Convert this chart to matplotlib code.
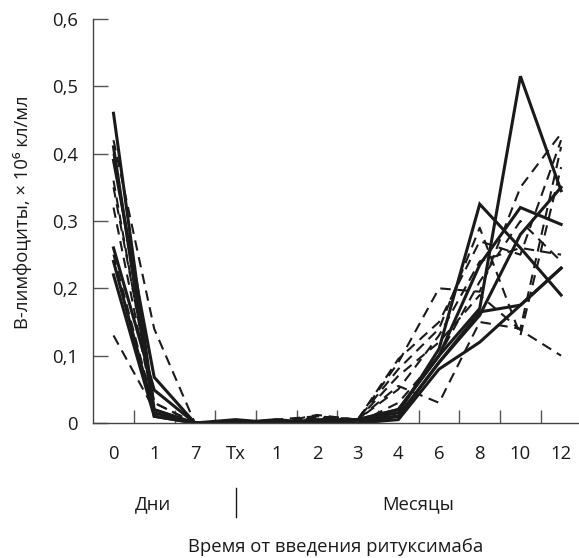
import matplotlib
matplotlib.use("Agg")
import matplotlib.pyplot as plt
from matplotlib.lines import Line2D

categories = ["0", "1", "7", "Tx", "1", "2", "3", "4", "6", "8", "10", "12"]
y_ticks = [0, 0.1, 0.2, 0.3, 0.4, 0.5, 0.6]
y_tick_labels = ["0", "0,1", "0,2", "0,3", "0,4", "0,5", "0,6"]

# solid-line patients
solid_1 = [0.46, 0.020, 0.0, 0.0, 0.0, 0.000, 0.005, 0.020, 0.100, 0.170, 0.515, 0.345]
solid_2 = [0.39, 0.068, 0.0, 0.0, 0.0, 0.000, 0.005, 0.015, 0.110, 0.325, 0.260, 0.190]
solid_3 = [0.26, 0.049, 0.0, 0.005, 0.0, 0.005, 0.005, 0.020, 0.100, 0.235, 0.320, 0.295]
solid_4 = [0.22, 0.010, 0.0, 0.0, 0.005, 0.000, 0.005, 0.010, 0.090, 0.160, 0.280, 0.350]
solid_5 = [0.41, 0.010, 0.0, 0.0, 0.0, 0.000, 0.000, 0.010, 0.090, 0.165, 0.175, 0.230]
solid_6 = [0.24, 0.015, 0.0, 0.0, 0.0, 0.000, 0.000, 0.005, 0.080, 0.120, 0.175, 0.230]

# dashed-line patients
dashed_1 = [0.42, 0.140, 0.0, 0.0, 0.0, 0.010, 0.005, 0.090, 0.200, 0.195, 0.350, 0.430]
dashed_2 = [0.40, 0.030, 0.0, 0.0, 0.005, 0.010, 0.005, 0.055, 0.030, 0.150, 0.140, 0.410]
dashed_3 = [0.36, 0.020, 0.0, 0.0, 0.0, 0.012, 0.005, 0.080, 0.140, 0.290, 0.130, 0.380]
dashed_4 = [0.32, 0.020, 0.0, 0.0, 0.0, 0.005, 0.005, 0.070, 0.120, 0.190, 0.138, 0.100]
dashed_5 = [0.25, 0.020, 0.0, 0.0, 0.0, 0.000, 0.005, 0.050, 0.130, 0.240, 0.260, 0.250]
dashed_6 = [0.13, 0.020, 0.0, 0.0, 0.0, 0.005, 0.000, 0.030, 0.100, 0.210, 0.300, 0.240]
dashed_7 = [0.35, 0.030, 0.0, 0.0, 0.0, 0.008, 0.005, 0.095, 0.150, 0.270, 0.250, 0.420]

solid_series = [solid_1, solid_2, solid_3, solid_4, solid_5, solid_6]
dashed_series = [dashed_1, dashed_2, dashed_3, dashed_4, dashed_5, dashed_6, dashed_7]

FONT = ["Open Sans", "DejaVu Sans"]
plt.rcParams["font.family"] = FONT
FS = 13.3

fig = plt.figure(figsize=(5.79, 5.58), dpi=100)
ax = fig.add_axes([93 / 579, 1 - 423 / 558, 1 - 93 / 579, (423 - 19) / 558])

x = list(range(len(categories)))
ink = "#1a1a1a"
for s in dashed_series:
    ax.plot(x, s, color=ink, lw=1.5, linestyle=(0, (5, 3.2)), solid_joinstyle="miter")
for s in solid_series:
    ax.plot(x, s, color=ink, lw=2.2, solid_joinstyle="miter")

ax.set_xlim(-0.504, 11.44)
ax.set_ylim(0, 0.6)
ax.spines["top"].set_visible(False)
ax.spines["right"].set_visible(False)
for sp in ("left", "bottom"):
    ax.spines[sp].set_color("#444444")
    ax.spines[sp].set_linewidth(1.0)

# x: boundary ticks (major), labels on minor
ax.set_xticks([i + 0.5 for i in range(len(categories) - 1)])
ax.set_xticklabels([])
ax.set_xticks(x, minor=True)
ax.set_xticklabels(categories, minor=True)
ax.tick_params(axis="x", which="major", direction="in", length=9.5, width=1.0, color="#555555")
ax.tick_params(axis="x", which="minor", length=0, pad=15.5, labelsize=FS, labelcolor="#1a1a1a")

ax.set_yticks(y_ticks)
ax.set_yticklabels(y_tick_labels)
ax.tick_params(axis="y", direction="in", length=10.5, width=1.0, color="#555555",
               pad=11, labelsize=FS, labelcolor="#1a1a1a")

# group labels
fig.text(153 / 579, 1 - 504 / 558, "Дни", ha="center", va="center", fontsize=FS, color="#1a1a1a")
fig.text(418 / 579, 1 - 504 / 558, "Месяцы", ha="center", va="center", fontsize=FS, color="#1a1a1a")
fig.add_artist(Line2D([236 / 579, 236 / 579], [1 - 488 / 558, 1 - 517 / 558],
                      transform=fig.transFigure, color="#1a1a1a", lw=1.0))

fig.text(336 / 579, 1 - 547 / 558, "Время от введения ритуксимаба", ha="center", va="center",
         fontsize=FS, color="#1a1a1a")
fig.text(23 / 579, 1 - 212 / 558, "В-лимфоциты, × 10⁶ кл/мл", ha="center", va="center",
         rotation=90, fontsize=FS, color="#1a1a1a", family=FONT)

fig.savefig("out.png", dpi=100)
